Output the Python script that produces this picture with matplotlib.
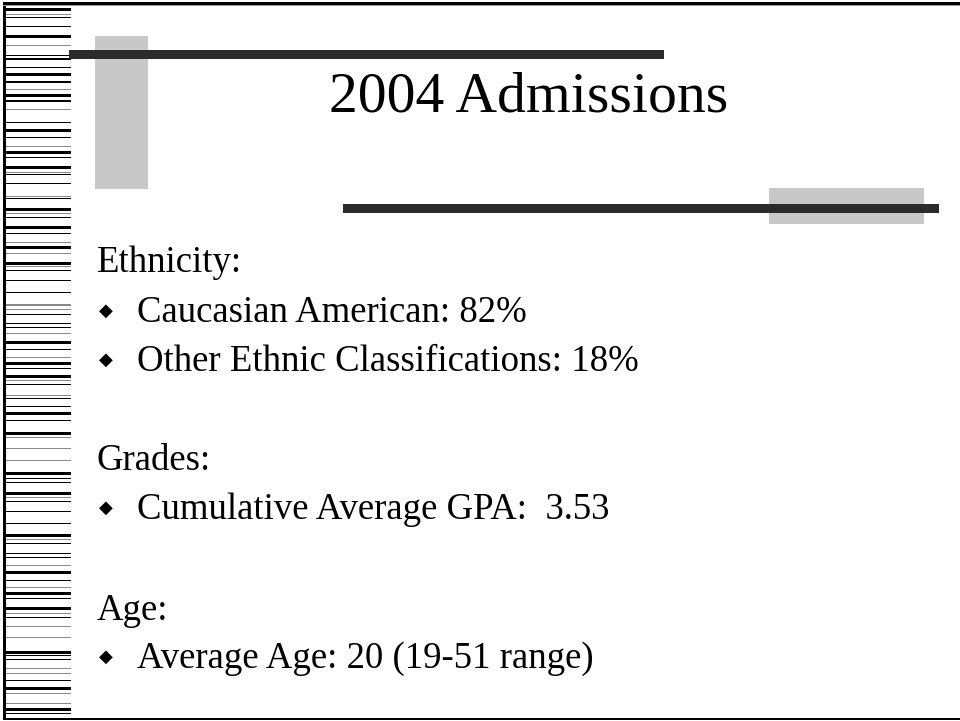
import matplotlib
matplotlib.use("Agg")
import matplotlib.pyplot as plt
from matplotlib.patches import Rectangle

# ---- content ----
title = "2004 Admissions"
headings = ["Ethnicity:", "Grades:", "Age:"]
heading_baselines = [272, 470, 620]
bullets = ["Caucasian American: 82%",
           "Other Ethnic Classifications: 18%",
           "Cumulative Average GPA:  3.53",
           "Average Age: 20 (19-51 range)"]
bullet_baselines = [322, 371, 519, 668]

# ---- left barcode decoration (y position, thickness, tone) ----
stripe_y = [9, 14, 17, 26, 36, 45, 55, 59, 67, 74, 82, 89, 95, 101, 109, 122, 130, 137,
            146, 152, 157, 167, 172, 174, 183, 196, 198, 209, 213, 217, 227, 233, 242,
            247, 253, 263, 266, 270, 280, 292, 305, 309, 314, 323, 327, 333, 342, 349,
            357, 363, 368, 376, 380, 384, 395, 398, 406, 413, 420, 433, 437, 448, 460,
            473, 478, 482, 493, 497, 501, 511, 523, 535, 539, 543, 553, 557, 565, 572,
            580, 587, 593, 598, 608, 613, 617, 626, 637, 652, 655, 659, 668, 673, 680,
            688, 693, 703, 709, 713]
stripe_h = [3, 1, 1, 1, 3, 1, 1, 2, 1, 3, 2, 1, 3, 2, 1, 1, 3, 1,
            1, 3, 1, 3, 1, 1, 1, 1, 1, 3, 1, 1, 3, 1, 1,
            3, 1, 3, 1, 1, 1, 1, 2, 1, 1, 1, 1, 1, 3, 1,
            1, 3, 1, 3, 1, 1, 1, 1, 1, 3, 1, 3, 1, 1, 1,
            3, 1, 1, 3, 1, 1, 1, 1, 3, 1, 1, 1, 1, 1, 3,
            1, 1, 3, 1, 3, 1, 1, 1, 1, 3, 1, 1, 1, 1, 1,
            3, 1, 1, 3, 1]
stripe_tone = ["k", "g", "k", "k", "k", "g", "k", "k", "k", "k", "k", "g", "k", "k", "g", "k", "k", "k",
               "g", "k", "k", "k", "g", "k", "k", "g", "k", "k", "g", "k", "k", "k", "g",
               "k", "g", "k", "g", "k", "k", "k", "g", "g", "k", "k", "k", "g", "k", "k",
               "g", "k", "k", "k", "g", "k", "g", "k", "k", "k", "k", "k", "g", "g", "g",
               "k", "k", "k", "k", "g", "k", "k", "k", "k", "g", "k", "k", "k", "g", "k",
               "k", "g", "k", "k", "k", "g", "k", "g", "g", "k", "k", "k", "g", "g", "k",
               "k", "g", "g", "k", "k"]
tone_colors = {"k": "#000000", "g": "#8a8a8a"}

W, H = 960, 721
fig = plt.figure(figsize=(W / 100, H / 100), dpi=100)
ax = fig.add_axes([0, 0, 1, 1])
ax.set_xlim(0, W)
ax.set_ylim(H, 0)
ax.axis("off")

# barcode stripes
for y, h, t in zip(stripe_y, stripe_h, stripe_tone):
    ax.add_patch(Rectangle((5, y - h / 2), 66, h, facecolor=tone_colors[t],
                           edgecolor="none", zorder=2))
# left vertical rule
ax.add_patch(Rectangle((3, 2), 3, 718, facecolor="black", edgecolor="none", zorder=3))
# top & bottom rules
ax.add_patch(Rectangle((3, 2), W - 3, 2.5, facecolor="black", edgecolor="none", zorder=3))
ax.add_patch(Rectangle((3, 4.5), W - 3, 1, facecolor="#9a9a9a", edgecolor="none", zorder=3))
ax.add_patch(Rectangle((3, 718), W - 3, 2, facecolor="black", edgecolor="none", zorder=3))

# title decorations
ax.add_patch(Rectangle((95, 36), 53, 153, facecolor="#c8c8c8", edgecolor="none", zorder=2))
ax.add_patch(Rectangle((69, 50), 595, 8.5, facecolor="#2b2b2b", edgecolor="none", zorder=3))
ax.add_patch(Rectangle((769, 188), 155, 36, facecolor="#c8c8c8", edgecolor="none", zorder=2))
ax.add_patch(Rectangle((343, 204), 596, 9, facecolor="#2b2b2b", edgecolor="none", zorder=3))

serif = ["Liberation Serif", "DejaVu Serif"]
ax.text(529, 112, title, fontsize=41.5, family=serif, ha="center", va="baseline",
        color="black", zorder=4)

for txt, yb in zip(headings, heading_baselines):
    ax.text(97, yb, txt, fontsize=26.5, family=serif, ha="left", va="baseline", zorder=4)

for txt, yb in zip(bullets, bullet_baselines):
    ax.text(106, yb - 11, "\u25C6", fontsize=13, family=["DejaVu Sans"], ha="center",
            va="center", zorder=4)
    ax.text(137, yb, txt, fontsize=26.5, family=serif, ha="left", va="baseline", zorder=4)

fig.savefig("out.png", dpi=100, facecolor="white")
